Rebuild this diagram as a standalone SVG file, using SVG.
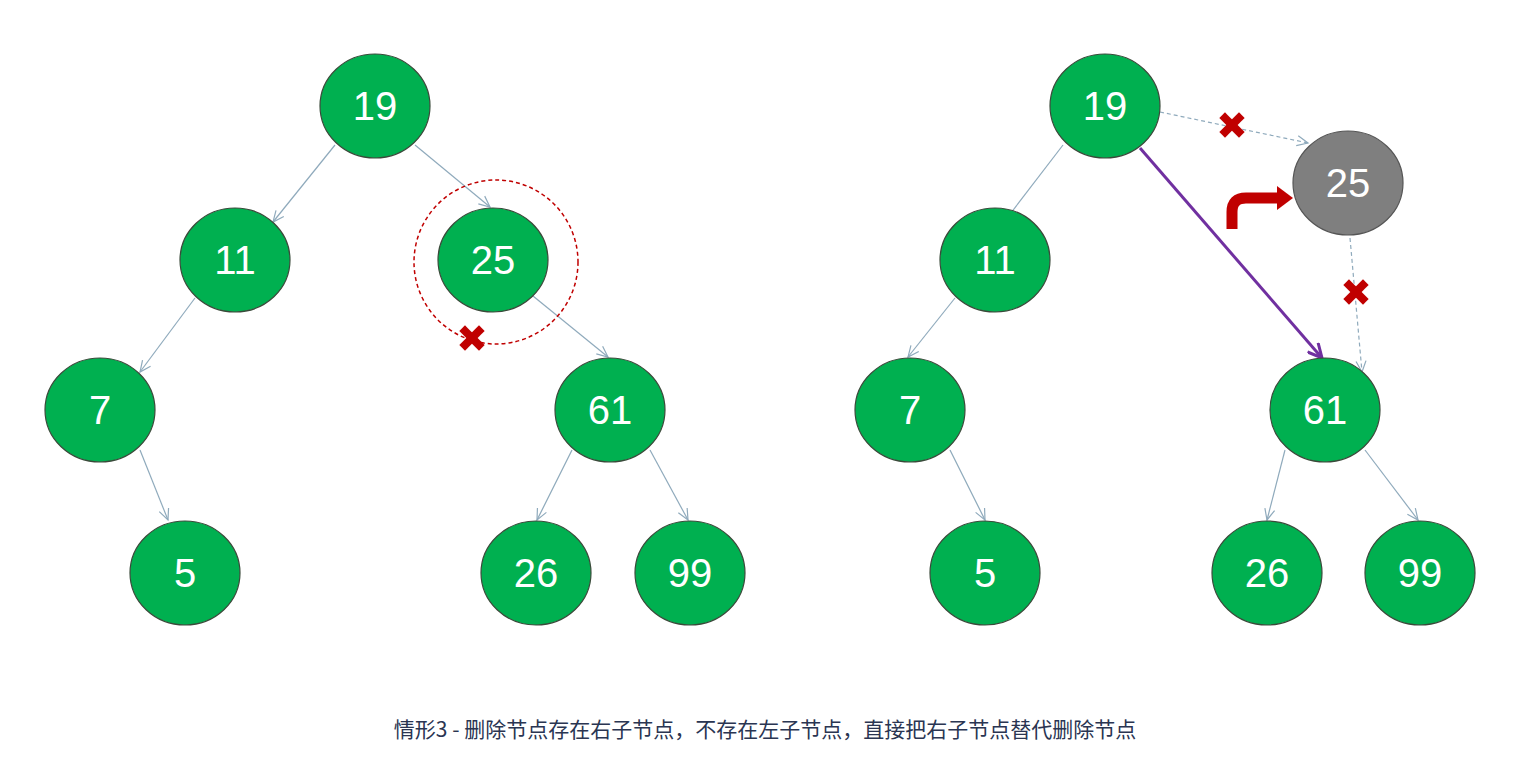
<svg xmlns="http://www.w3.org/2000/svg" width="1527" height="780" viewBox="0 0 1527 780">
<style>
.n ellipse{fill:#00b050;stroke:#3a4a3a;stroke-width:1.2}
.g ellipse{fill:#7f7f7f;stroke:#555;stroke-width:1.2}
text.v{font-family:"Liberation Sans",Arial,sans-serif;font-size:40px;fill:#fff;text-anchor:middle;dominant-baseline:central}
.e{stroke:#8faabc;stroke-width:1.2;fill:none;marker-end:url(#a)}
.d{stroke:#8faabc;stroke-width:1.2;fill:none;stroke-dasharray:4 3;marker-end:url(#a)}
.x{stroke:#c00000;stroke-width:8;stroke-linecap:square}
</style>
<defs>
<marker id="a" markerWidth="14" markerHeight="12" refX="12" refY="6" orient="auto" markerUnits="userSpaceOnUse"><path d="M1,1 L12,6 L1,11" fill="none" stroke="#8faabc" stroke-width="1.2"/></marker>
<marker id="p" markerWidth="18" markerHeight="16" refX="15" refY="8" orient="auto" markerUnits="userSpaceOnUse"><path d="M1,1 L15,8 L1,15" fill="none" stroke="#7030a0" stroke-width="3"/></marker>
<g id="X"><line class="x" x1="-7" y1="-7" x2="7" y2="7"/><line class="x" x1="7" y1="-7" x2="-7" y2="7"/></g>
</defs>
<rect width="1527" height="780" fill="#fff"/>
<g id="connectors">
<line class="e" x1="335" y1="145" x2="273" y2="222"/>
<line class="e" x1="415" y1="145" x2="490" y2="207"/>
<line class="e" x1="195" y1="298" x2="140" y2="372"/>
<line class="e" x1="140" y1="450" x2="168" y2="520"/>
<line class="e" x1="533" y1="296" x2="608" y2="357"/>
<line class="e" x1="572" y1="450" x2="537" y2="520"/>
<line class="e" x1="650" y1="450" x2="688" y2="520"/>
<line class="e" x1="1063" y1="145" x2="1004" y2="222"/>
<line class="e" x1="955" y1="298" x2="908" y2="357"/>
<line class="e" x1="950" y1="450" x2="985" y2="520"/>
<line class="e" x1="1285" y1="450" x2="1267" y2="520"/>
<line class="e" x1="1365" y1="450" x2="1418" y2="520"/>
<line class="d" x1="1160" y1="112" x2="1308" y2="143"/>
<line class="d" x1="1350" y1="238" x2="1362" y2="372"/>
<line x1="1140" y1="148" x2="1322" y2="358" stroke="#7030a0" stroke-width="3" marker-end="url(#p)"/>
</g>
<circle id="mark" cx="496" cy="262" r="82" fill="none" stroke="#c00000" stroke-width="1.5" stroke-dasharray="4 3"/>
<use href="#X" x="472" y="338"/>
<use href="#X" x="1232" y="125"/>
<use href="#X" x="1356" y="292"/>
<g id="bentArrow">
<path d="M1232,229 V212 Q1232,198 1246,198 H1278" fill="none" stroke="#c00000" stroke-width="11"/>
<path d="M1277,186 L1293,198 L1277,210 Z" fill="#c00000"/>
</g>
<g id="L19" class="n"><ellipse cx="375" cy="106" rx="55" ry="52"/><text class="v" x="375" y="106">19</text></g>
<g id="L11" class="n"><ellipse cx="235" cy="260" rx="55" ry="52"/><text class="v" x="235" y="260">11</text></g>
<g id="L25" class="n"><ellipse cx="493" cy="260" rx="55" ry="52"/><text class="v" x="493" y="260">25</text></g>
<g id="L7" class="n"><ellipse cx="100" cy="410" rx="55" ry="52"/><text class="v" x="100" y="410">7</text></g>
<g id="L61" class="n"><ellipse cx="610" cy="410" rx="55" ry="52"/><text class="v" x="610" y="410">61</text></g>
<g id="L5" class="n"><ellipse cx="185" cy="573" rx="55" ry="52"/><text class="v" x="185" y="573">5</text></g>
<g id="L26" class="n"><ellipse cx="536" cy="573" rx="55" ry="52"/><text class="v" x="536" y="573">26</text></g>
<g id="L99" class="n"><ellipse cx="690" cy="573" rx="55" ry="52"/><text class="v" x="690" y="573">99</text></g>
<g id="R19" class="n"><ellipse cx="1105" cy="106" rx="55" ry="52"/><text class="v" x="1105" y="106">19</text></g>
<g id="R25" class="g"><ellipse cx="1348" cy="183" rx="55" ry="52"/><text class="v" x="1348" y="183">25</text></g>
<g id="R11" class="n"><ellipse cx="995" cy="260" rx="55" ry="52"/><text class="v" x="995" y="260">11</text></g>
<g id="R7" class="n"><ellipse cx="910" cy="410" rx="55" ry="52"/><text class="v" x="910" y="410">7</text></g>
<g id="R61" class="n"><ellipse cx="1325" cy="410" rx="55" ry="52"/><text class="v" x="1325" y="410">61</text></g>
<g id="R5" class="n"><ellipse cx="985" cy="573" rx="55" ry="52"/><text class="v" x="985" y="573">5</text></g>
<g id="R26" class="n"><ellipse cx="1267" cy="573" rx="55" ry="52"/><text class="v" x="1267" y="573">26</text></g>
<g id="R99" class="n"><ellipse cx="1420" cy="573" rx="55" ry="52"/><text class="v" x="1420" y="573">99</text></g>
<text x="765" y="728" text-anchor="middle" dominant-baseline="central" font-family="'Noto Sans CJK SC',sans-serif" font-size="21" fill="#2a3552">情形3 - 删除节点存在右子节点，不存在左子节点，直接把右子节点替代删除节点</text>
</svg>
